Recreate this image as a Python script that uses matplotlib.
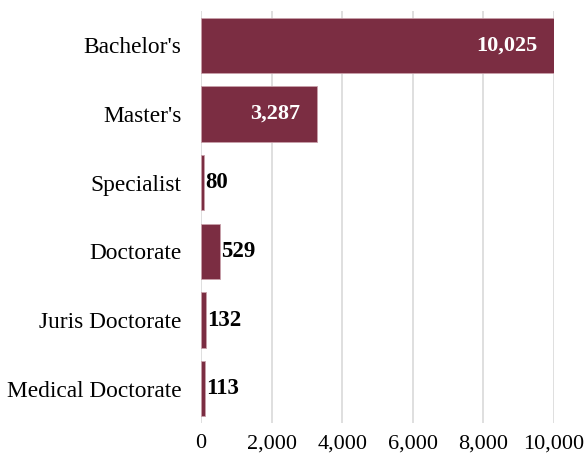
import matplotlib
matplotlib.use("Agg")
import matplotlib.pyplot as plt

categories = ["Bachelor's", "Master's", "Specialist", "Doctorate", "Juris Doctorate", "Medical Doctorate"]
values = [10025, 3287, 80, 529, 132, 113]
xticks = [0, 2000, 4000, 6000, 8000, 10000]

plt.rcParams['font.family'] = ['Liberation Serif', 'DejaVu Serif']

fig = plt.figure(figsize=(5.85, 4.62), dpi=100)
ax = fig.add_axes([201/585, 1-423/462, (554-201)/585, (423-11)/462])

bar_color = '#7B2D42'
ypos = list(range(len(categories)))
ax.barh(ypos, values, height=0.81, color=bar_color, edgecolor='#c9a0aa', linewidth=0.6, zorder=3)
ax.set_ylim(len(categories)-0.5, -0.5)
ax.set_xlim(0, 10000)
ax.set_yticks(ypos)
ax.set_yticklabels(categories, fontsize=16.8)
ax.set_xticks(xticks)
ax.set_xticklabels([f"{t:,}" for t in xticks], fontsize=16)
ax.tick_params(axis='x', length=0, pad=8)
ax.tick_params(axis='y', length=0, pad=14)
ax.grid(axis='x', color='#d9d9d9', linewidth=1.2, zorder=0)
for s in ax.spines.values():
    s.set_visible(False)

for y, v in zip(ypos, values):
    label = f"{v:,}"
    if v > 2000:
        ax.text(v - 480, y, label, ha='right', va='center', color='white',
                fontsize=16, fontweight='bold', zorder=4)
    else:
        ax.text(v + 30, y, label, ha='left', va='center', color='black',
                fontsize=16.5, fontweight='bold', zorder=4)

fig.savefig("out.png", dpi=100)
